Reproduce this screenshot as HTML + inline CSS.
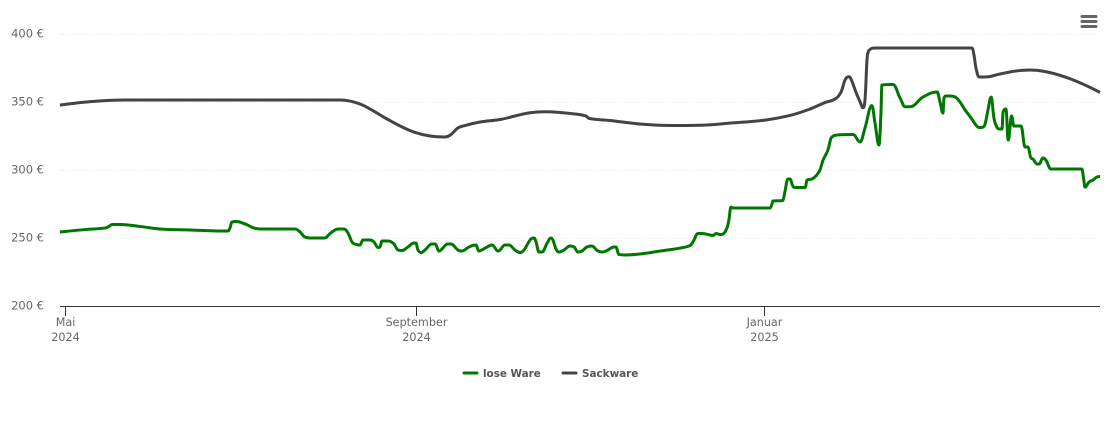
<!DOCTYPE html>
<html lang="de">
<head>
<meta charset="utf-8">
<title>Preisentwicklung</title>
<style>
html,body{margin:0;padding:0;background:#fff;}
body{width:1110px;height:423px;overflow:hidden;}
svg{display:block;font-family:"DejaVu Sans","Liberation Sans",sans-serif;}
</style>
</head>
<body>
<svg id="chart" width="1110" height="423" viewBox="0 0 1110 423" xmlns="http://www.w3.org/2000/svg">
  <g id="grid"></g>
  <g id="y-labels"></g>
  <g id="x-axis"></g>
  <g id="series"></g>
  <g font-size="10.4" font-weight="bold" fill="#555">
    <g>
      <line x1="464" x2="477" y1="373" y2="373" stroke="#007700" stroke-width="3" stroke-linecap="round"/>
      <text x="483" y="377">lose Ware</text>
    </g>
    <g>
      <line x1="563" x2="576" y1="373" y2="373" stroke="#434348" stroke-width="3" stroke-linecap="round"/>
      <text x="582" y="377">Sackware</text>
    </g>
  </g>
  <g stroke="#666" stroke-width="3" stroke-linecap="round">
    <line x1="1082" x2="1096" y1="16.5" y2="16.5"/>
    <line x1="1082" x2="1096" y1="21.5" y2="21.5"/>
    <line x1="1082" x2="1096" y1="26.5" y2="26.5"/>
  </g>
</svg>
<script>
// Days since 1 May 2024 and price in euro
var looseDays = [-1.9,6.9,13.9,15.3,16.4,19.2,26.2,33.2,43.7,57,57.7,58.4,59.8,63,66.8,68.9,80.5,82.3,84,85.8,91,92.8,95.6,97.7,99.1,100.8,102.2,103.3,104.3,106.8,108.2,109.6,110.3,111,113.1,115.2,116.6,118,120.1,122.2,122.9,123.6,124.7,126.1,128.5,129.6,131,131.7,134.1,135.2,137.6,139,141.5,143.9,145,146,148.5,149.6,151.7,152.4,154.1,155.5,157.6,159.4,160.8,162.9,164.3,165,166,167.1,168.9,170.2,170.9,172,173,174.8,176.9,178.3,179.7,181.1,182.8,184.6,186.7,188.4,190.2,192.3,193,194,196.2,201.4,208.4,215.5,219,220,221.8,223.2,226,227,228.1,229.5,230.5,231.9,232.6,233.3,234,247,247.7,248,251.5,252.2,253.3,254,255,255.7,259.3,260,261.7,263.1,264.5,265.6,267.3,268.4,270.5,276.1,278.6,280.3,282.7,283.8,285.2,285.9,286.2,290.1,292.6,294.4,296.1,300.7,305.6,306.6,307.6,308,308.6,310.1,311.9,313.6,315.4,317.5,318.9,320.3,321.7,322.4,323.4,324.5,325.5,326.2,327.3,328.3,328.7,329.7,330.5,331.7,332.5,335,336.4,337.4,338.5,339.2,340.6,341.3,342.7,343.7,345.5,356.3,357,357.4,358.8,360.2,361.6,362.7];
var looseValues = [254.7,256.5,257.6,258.8,260.2,260.2,258.8,256.9,256.2,255.4,257.6,262.1,262.4,260.6,257.3,256.9,256.9,254.7,251,250.3,250.3,253.6,256.9,256.9,253.9,246.6,245.5,245.1,248.8,248.8,247.4,243.3,243.7,248.1,248.1,245.9,241.5,241.1,243.7,246.6,246.6,241.5,239.6,241.5,245.9,245.9,240.7,241.5,245.9,245.9,241.5,240.7,243.7,245.1,240.7,241.5,244.4,245.1,240.7,241.5,245.1,245.1,241.5,239.6,241.5,248.8,250.3,247.4,240,240,246.6,250.3,248.8,242.2,240,241.5,244.4,243.7,240,240.7,243.7,244.4,240.7,240,241.5,243.7,243.7,238.2,237.8,238.5,240.7,242.9,244.8,247.4,253.6,253.6,252.5,252.1,253.6,252.8,253.2,257.6,263.5,273,272.4,272.4,275.3,277.5,277.9,284.1,293.7,293.7,288.5,287.4,287.4,292.9,293.7,295.9,300.3,307.6,315,323.8,326,326.4,320.9,331.2,347.6,334.9,318.7,342.2,362.8,363.2,353.2,346.8,346.8,354,357.6,350.3,342.2,353.2,354.7,354.7,354,350.3,344.4,338.5,334.1,331.5,331.9,334.1,344.4,353.9,338.5,333.3,330.4,330.4,342.9,345.1,322.3,340,332.6,332.6,317.2,317.2,309.1,308.3,304.7,304.7,309.1,307.6,301,301,292.9,287.7,291.4,292.9,295.1,295.5];
var sackDays = [-1.9,6.9,15.7,20.9,96.3,99.8,103.3,106.8,112.1,117.3,122.6,127.8,133.1,135.2,137.6,140.1,145.4,152.4,157.6,162.9,168.1,173.4,178.6,182.5,183.6,190.9,201.4,212,222.5,233,245.3,254,261,266.3,269.8,271.9,273.3,274.7,275.7,277.1,278.6,279.6,280.3,281,281.5,283.8,317.8,318.5,319.2,320.3,322.4,327.6,332.9,338.2,343.4,350.4,357.4,362.7];
var sackValues = [348,350.2,351.5,351.8,351.8,351,348.8,345.2,338.6,332.7,327.9,325.3,324.6,326.4,331.2,333,335.6,337.4,340,342.4,343.1,342.6,341.5,340,338.2,336.7,334.1,333,333.2,334.8,337,340.4,345.1,349.9,352.5,357.6,366.4,368.9,365.7,357.6,350.3,346.1,351.8,381.2,387.8,390,390,384.9,375.3,368.7,368.7,370.9,373,373.8,372.7,368.7,362.8,357.3];
var yTicks = [200,250,300,350,400];
var xTickDays = [0,123,245];
var xTickMonths = ["Mai","September","Januar"];
var xTickYears = ["2024","2024","2025"];

var NS = "http://www.w3.org/2000/svg";
var plotLeft = 60, plotRight = 1100;
function xScale(d){ return 65.3 + 2.853 * d; }
function yScale(v){ return 306.4 - (v - 200) * 1.36; }

function make(tag, attrs, parent){
  var el = document.createElementNS(NS, tag);
  for (var k in attrs) el.setAttribute(k, attrs[k]);
  parent.appendChild(el);
  return el;
}

function splinePath(days, values){
  var pts = days.map(function(d, i){ return [xScale(d), yScale(values[i])]; });
  var s = 1.5, den = 2.5;
  var path = "M" + pts[0][0].toFixed(2) + " " + pts[0][1].toFixed(2);
  var ctrl = [];
  for (var i = 0; i < pts.length; i++) {
    var p = pts[i], c = {lx:p[0], ly:p[1], rx:p[0], ry:p[1]};
    if (i > 0 && i < pts.length - 1) {
      var a = pts[i-1], b = pts[i+1];
      c.lx = (s*p[0] + a[0]) / den; c.ly = (s*p[1] + a[1]) / den;
      c.rx = (s*p[0] + b[0]) / den; c.ry = (s*p[1] + b[1]) / den;
      if (c.rx !== c.lx) {
        var corr = ((c.ry - c.ly) * (c.rx - p[0])) / (c.rx - c.lx) + p[1] - c.ry;
        c.ly += corr; c.ry += corr;
      }
      if (c.ly > a[1] && c.ly > p[1]) { c.ly = Math.max(a[1], p[1]); c.ry = 2*p[1] - c.ly; }
      else if (c.ly < a[1] && c.ly < p[1]) { c.ly = Math.min(a[1], p[1]); c.ry = 2*p[1] - c.ly; }
      if (c.ry > b[1] && c.ry > p[1]) { c.ry = Math.max(b[1], p[1]); c.ly = 2*p[1] - c.ry; }
      else if (c.ry < b[1] && c.ry < p[1]) { c.ry = Math.min(b[1], p[1]); c.ly = 2*p[1] - c.ry; }
    }
    ctrl.push(c);
  }
  for (var j = 1; j < pts.length; j++) {
    path += "C" + ctrl[j-1].rx.toFixed(2) + " " + ctrl[j-1].ry.toFixed(2) + " " +
            ctrl[j].lx.toFixed(2) + " " + ctrl[j].ly.toFixed(2) + " " +
            pts[j][0].toFixed(2) + " " + pts[j][1].toFixed(2);
  }
  return path;
}

var gridG = document.getElementById("grid");
var yG = document.getElementById("y-labels");
var xG = document.getElementById("x-axis");
var seriesG = document.getElementById("series");

yTicks.forEach(function(v){
  var y = yScale(v);
  if (v !== 200) {
    var ln = make("line", {x1:plotLeft, x2:plotRight, y1:y, y2:y, stroke:"#e6e6e6", "stroke-width":1, "stroke-dasharray":"1,2"}, gridG);
    
    
  }
  var t = make("text", {x:44, y:y + 3, "text-anchor":"end", "font-size":11.5, fill:"#666"}, yG);
  
  
  t.textContent = v + " €";
});

var axisLine = make("line", {x1:plotLeft, x2:plotRight, y1:306.5, y2:306.5, stroke:"#333", "stroke-width":1}, xG);



xTickDays.forEach(function(d, i){
  var x = Math.round(xScale(d) - 0.5) + 0.5;
  var tick = make("line", {x1:x, x2:x, y1:306, y2:316, stroke:"#333", "stroke-width":1}, xG);
  
  
  var t1 = make("text", {x:x, y:326, "text-anchor":"middle", "font-size":11.2, fill:"#666"}, xG);
  
  
  t1.textContent = xTickMonths[i];
  var t2 = make("text", {x:x, y:341, "text-anchor":"middle", "font-size":11.2, fill:"#666"}, xG);
  
  
  t2.textContent = xTickYears[i];
});

var sackLine = make("path", {d:splinePath(sackDays, sackValues), fill:"none", stroke:"#434348", "stroke-width":3, "stroke-linejoin":"round"}, seriesG);



var looseLine = make("path", {d:splinePath(looseDays, looseValues), fill:"none", stroke:"#007700", "stroke-width":3, "stroke-linejoin":"round"}, seriesG);


</script>
</body>
</html>
